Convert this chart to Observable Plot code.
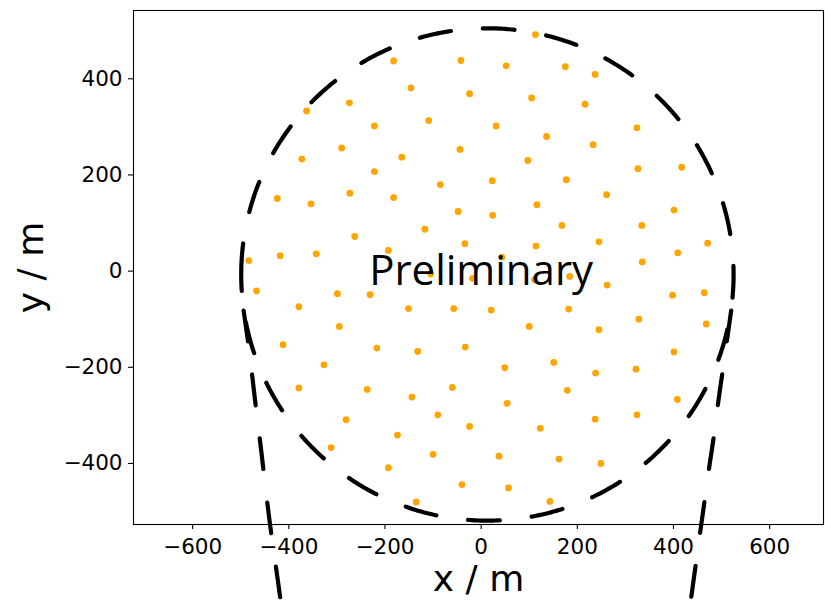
<!DOCTYPE html>
<html>
<head>
<meta charset="utf-8">
<script src="https://cdn.jsdelivr.net/npm/d3@7"></script>
<script src="https://cdn.jsdelivr.net/npm/@observablehq/plot@0.6"></script>
<style>
  html, body { margin: 0; padding: 0; background: #fff; }
  #chart { width: 825px; height: 600px; overflow: hidden; }
</style>
</head>
<body>
<div id="chart"></div>
<script>
// ---- data (metres) ----
const stationX = [-182,-42,-146,-24,-274,-363,-222,-109,-290,-44,-165,-373,-222,-85,-424,-354,-273,-182,-48,-263,-117,-34,-483,-418,-343,-193,
  113,52,175,237,105,216,31,324,136,233,97,326,417,23,177,261,116,401,24,168,334,114,245,471,409,43,335,
  -467,-299,-231,-379,-151,-57,-295,-412,-217,-132,-33,-327,-379,-237,-144,-60,-90,-281,-24,-174,-312,-100,-193,-40,-135,-105,-18,
  111,184,262,398,464,21,182,100,245,328,468,401,49,151,238,322,179,54,408,237,324,123,37,162,249,57,143];
const stationY = [437,438,381,369,350,333,302,313,256,253,237,233,207,180,151,140,162,153,124,72,87,57,22,32,36,43,
  492,427,425,409,360,347,302,298,280,263,230,213,216,188,190,159,138,127,116,95,95,52,61,58,38,29,19,
  -41,-47,-49,-74,-78,-78,-115,-153,-160,-167,-158,-195,-243,-246,-262,-242,-299,-309,-323,-341,-367,-381,-409,-444,-480,-6,-15,
  -18,-11,-29,-50,-45,-81,-79,-115,-122,-100,-110,-168,-201,-190,-212,-204,-248,-275,-267,-308,-299,-327,-385,-391,-400,-451,-479];

// dashed boundary circle: centre, radius, start angle (deg) of its drawn path
const circleCenter = [13, -7];
const circleRadius = 512;
const circleStartDeg = 176.4;

// outer dashed curves below the array (left and right branches)
const outerLeftX  = [-494, -483, -470, -457, -441, -423, -415];
const outerLeftY  = [-82, -160, -270, -377, -512, -642, -700];
const outerRightX = [520, 509, 502, 492, 483, 474, 465, 456, 447, 434];
const outerRightY = [-82, -160, -210, -280, -350, -410, -475, -540, -605, -700];

const xTicks = [-600, -400, -200, 0, 200, 400, 600];
const yTicks = [-400, -200, 0, 200, 400];
const xDomain = [-723, 712];
const yDomain = [-527, 542];
const xLabel = "x / m";
const yLabel = "y / m";
const watermark = "Preliminary";

// ---- tables built from the arrays ----
const stations = stationX.map((x, i) => ({x, y: stationY[i]}));
const circle = d3.range(0, 721).map(k => {
  const t = (circleStartDeg + k * 0.5) * Math.PI / 180;
  return {x: circleCenter[0] + circleRadius * Math.cos(t), y: circleCenter[1] + circleRadius * Math.sin(t)};
});
const outerLeft = outerLeftX.map((x, i) => ({x, y: outerLeftY[i]}));
const outerRight = outerRightX.map((x, i) => ({x, y: outerRightY[i]}));

const dash = {stroke: "black", strokeWidth: 4.2, strokeDasharray: "31.8,32"};

const chart = Plot.plot({
  width: 825,
  height: 600,
  marginLeft: 133,
  marginRight: 2,
  marginTop: 10,
  marginBottom: 76,
  style: {fontFamily: "DejaVu Sans", fontSize: "21.5px", background: "white", color: "black", overflow: "visible"},
  x: {domain: xDomain},
  y: {domain: yDomain},
  marks: [
    Plot.axisX({ticks: xTicks, tickSize: 5, tickPadding: 9, label: null, strokeWidth: 1.1}),
    Plot.axisY({ticks: yTicks, tickSize: 5, tickPadding: 6, label: null, strokeWidth: 1.1}),
    Plot.dot(stations, {x: "x", y: "y", r: 3.4, fill: "#FFA500", stroke: "none"}),
    Plot.line(circle, {x: "x", y: "y", ...dash}),
    Plot.line(outerLeft, {x: "x", y: "y", curve: "catmull-rom", ...dash, strokeDasharray: "31,33.5"}),
    Plot.line(outerRight, {x: "x", y: "y", curve: "catmull-rom", ...dash, strokeDasharray: "31,33.5"}),
    Plot.frame({stroke: "black", strokeWidth: 1.1}),
    Plot.text([watermark], {x: () => 0, y: () => 0, text: d => d, fontSize: 42, fontFamily: "Open Sans", textAnchor: "middle", lineAnchor: "middle", fill: "black"}),
    Plot.text([xLabel], {frameAnchor: "bottom", text: d => d, dy: 55, fontSize: 36, textAnchor: "middle", lineAnchor: "middle"}),
    Plot.text([yLabel], {frameAnchor: "left", text: d => d, dx: -102, rotate: -90, fontSize: 36, textAnchor: "middle", lineAnchor: "middle"})
  ]
});
document.getElementById("chart").appendChild(chart);
</script>
</body>
</html>
